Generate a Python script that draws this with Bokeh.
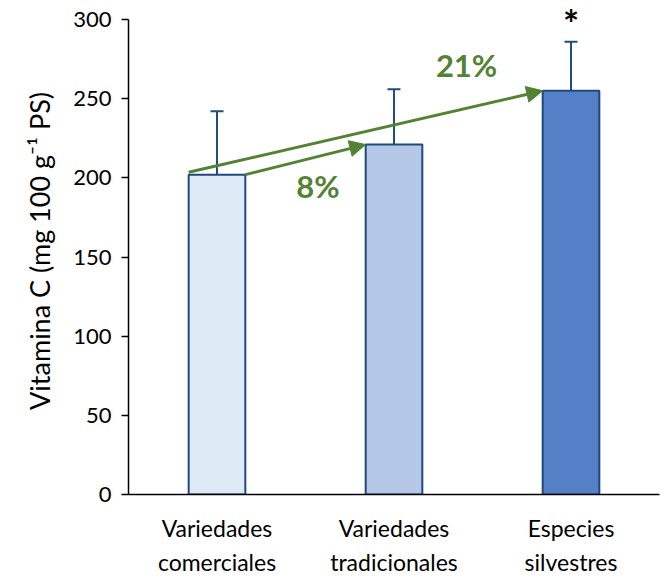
from bokeh.plotting import figure
from bokeh.models import (ColumnDataSource, FactorRange, Range1d, FixedTicker, Whisker,
                          TeeHead, Arrow, NormalHead, LabelSet)
from bokeh.core.properties import value
from bokeh.embed import file_html
from bokeh.resources import INLINE

categories = ["Variedades\ncomerciales", "Variedades\ntradicionales", "Especies\nsilvestres"]
means = [202, 221, 255]
errors = [40, 35, 31]
bar_colors = ["#DEEBF7", "#B4C7E7", "#5580C8"]
y_ticks = [0, 50, 100, 150, 200, 250, 300]

pct_labels = ["8%", "21%"]
pct_x = [1.07, 1.91]
pct_y = [195, 271]
star_label = ["*"]

FONT = "Lato"
GREEN = "#548235"
DARK = "#1F4E79"

p = figure(x_range=FactorRange(*categories, range_padding=0), y_range=Range1d(0, 312),
           frame_width=531, frame_height=494, output_backend="svg", toolbar_location=None,
           min_border_left=128, min_border_top=0, min_border_right=8, min_border_bottom=82)
p.outline_line_color = None
p.xgrid.grid_line_color = None
p.ygrid.grid_line_color = None

src = ColumnDataSource(dict(cat=categories, top=means, upper=[m + e for m, e in zip(means, errors)],
                            color=bar_colors))
p.vbar(x="cat", top="top", width=0.32, source=src, fill_color="color",
       line_color="#1F497D", line_width=2)
p.add_layout(Whisker(source=src, base="cat", lower="top", upper="upper", dimension="height",
                     line_color=DARK, line_width=2, lower_head=None,
                     upper_head=TeeHead(size=13, line_color=DARK, line_width=2)))

# arrows
half = 0.16
arr = ColumnDataSource(dict(
    xs=[0 + 0.5 + half, 0 + 0.5 - half],
    ys=[means[0], means[0] + 1.5],
    xe=[1 + 0.5 - half, 2 + 0.5 - half],
    ye=[means[1], means[2]],
))
p.add_layout(Arrow(source=arr, x_start="xs", y_start="ys", x_end="xe", y_end="ye",
                   line_color=GREEN, line_width=3,
                   end=NormalHead(size=16, fill_color=GREEN, line_color=GREEN)))

lab = ColumnDataSource(dict(x=pct_x, y=pct_y, t=pct_labels))
p.add_layout(LabelSet(source=lab, x="x", y="y", text="t", text_color=GREEN,
                      text_font=value(FONT), text_font_style="bold", text_font_size="31px",
                      text_align="center", text_baseline="middle"))
star = ColumnDataSource(dict(x=[2.5], y=[means[2] + errors[2] + 12], t=star_label))
p.add_layout(LabelSet(source=star, x="x", y="y", text="t", text_color="black",
                      text_font=value(FONT), text_font_style="bold", text_font_size="38px",
                      text_align="center", text_baseline="middle"))

# y axis
p.yaxis.ticker = FixedTicker(ticks=y_ticks)
p.yaxis.bounds = (0, 300)
p.yaxis.axis_line_color = "#000000"
p.yaxis.axis_line_width = 1.5
p.yaxis.major_tick_line_color = "#000000"
p.yaxis.major_tick_line_width = 1.5
p.yaxis.major_tick_out = 7
p.yaxis.major_tick_in = 0
p.yaxis.minor_tick_line_color = None
p.yaxis.major_label_standoff = 10
p.yaxis.major_label_text_font = FONT
p.yaxis.major_label_text_font_size = "22px"
p.yaxis.major_label_text_color = "#000000"
p.yaxis.axis_label = "Vitamina C  (mg 100 g\u207b\u00b9 PS)"
p.yaxis.axis_label_text_font = FONT
p.yaxis.axis_label_text_font_size = "27px"
p.yaxis.axis_label_text_font_style = "normal"
p.yaxis.axis_label_text_color = "#000000"
p.yaxis.axis_label_standoff = 14

# x axis
p.xaxis.axis_line_color = "#000000"
p.xaxis.axis_line_width = 1.5
p.xaxis.major_tick_line_color = None
p.xaxis.major_tick_out = 0
p.xaxis.major_label_standoff = 19
p.xaxis.major_label_text_font = FONT
p.xaxis.major_label_text_font_size = "23px"
p.xaxis.major_label_text_color = "#000000"
p.xaxis.major_label_text_line_height = 1.23

open("out.html", "w").write(file_html(p, INLINE))
